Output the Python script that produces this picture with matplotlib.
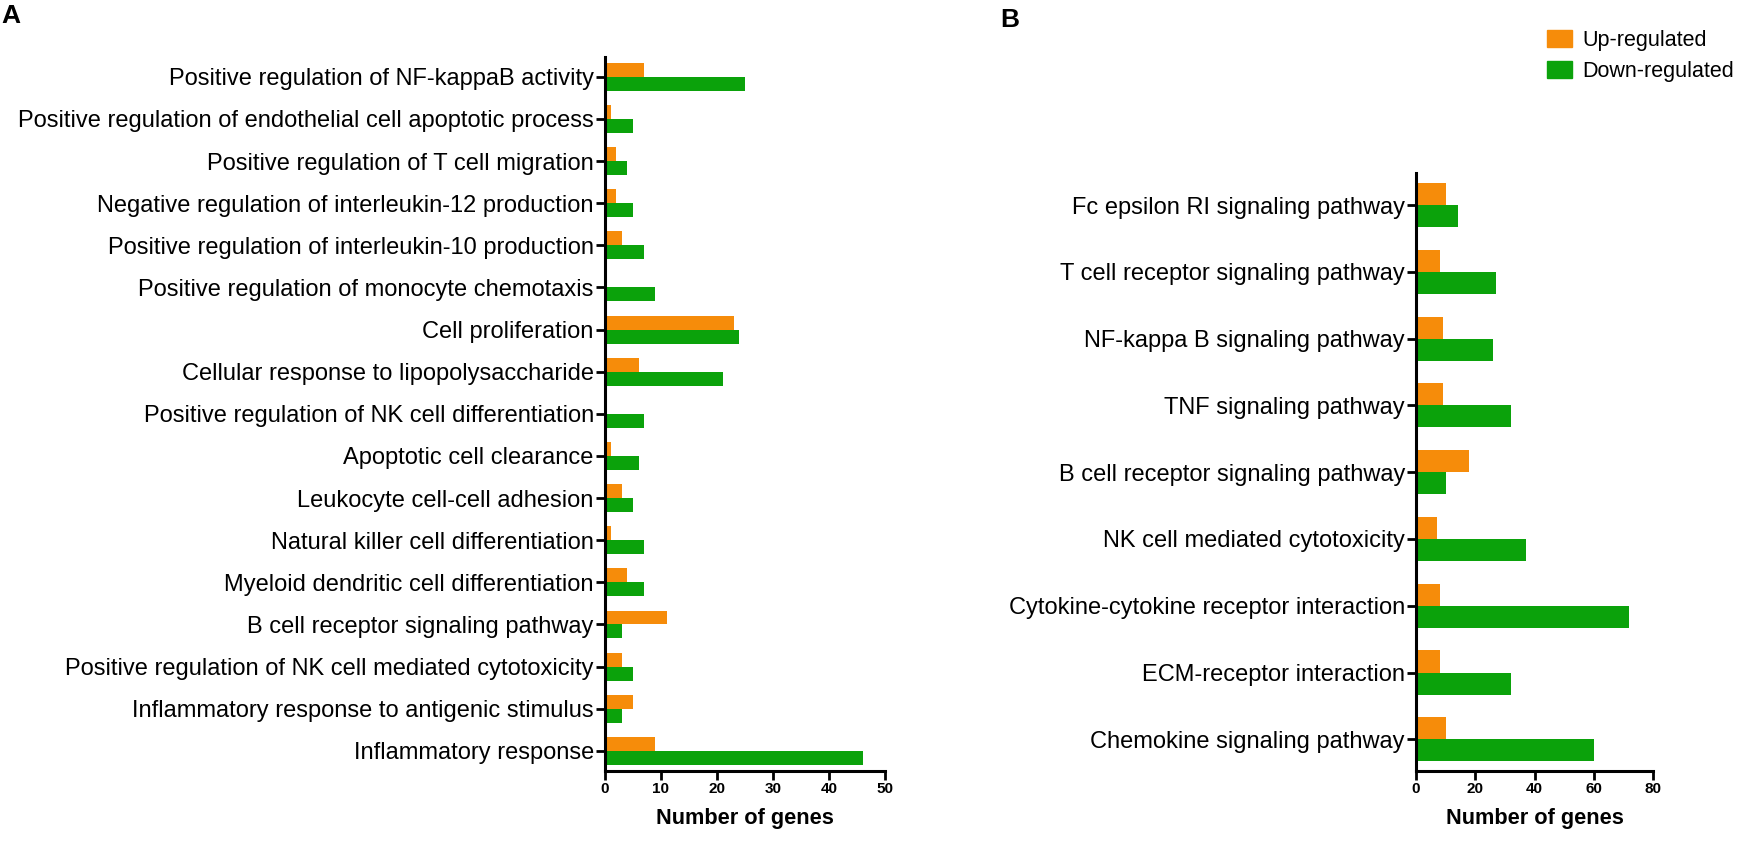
import matplotlib

matplotlib.use("Agg")

import matplotlib.pyplot as plt
import numpy as np
from matplotlib.patches import Patch

plt.rcParams["font.family"] = ["Liberation Sans", "DejaVu Sans"]

UP_COLOR = "#f68c0a"
DOWN_COLOR = "#0ba20b"

# Panel A: GO terms (top to bottom)
go_terms = [
    "Positive regulation of NF-kappaB activity",
    "Positive regulation of endothelial cell apoptotic process",
    "Positive regulation of T cell migration",
    "Negative regulation of interleukin-12 production",
    "Positive regulation of interleukin-10 production",
    "Positive regulation of monocyte chemotaxis",
    "Cell proliferation",
    "Cellular response to lipopolysaccharide",
    "Positive regulation of NK cell differentiation",
    "Apoptotic cell clearance",
    "Leukocyte cell-cell adhesion",
    "Natural killer cell differentiation",
    "Myeloid dendritic cell differentiation",
    "B cell receptor signaling pathway",
    "Positive regulation of NK cell mediated cytotoxicity",
    "Inflammatory response to antigenic stimulus",
    "Inflammatory response",
]
go_up = [7, 1, 2, 2, 3, 0, 23, 6, 0, 1, 3, 1, 4, 11, 3, 5, 9]
go_down = [25, 5, 4, 5, 7, 9, 24, 21, 7, 6, 5, 7, 7, 3, 5, 3, 46]
go_ticks = [0, 10, 20, 30, 40, 50]

# Panel B: KEGG pathways (top to bottom)
kegg_terms = [
    "Fc epsilon RI signaling pathway",
    "T cell receptor signaling pathway",
    "NF-kappa B signaling pathway",
    "TNF signaling pathway",
    "B cell receptor signaling pathway",
    "NK cell mediated cytotoxicity",
    "Cytokine-cytokine receptor interaction",
    "ECM-receptor interaction",
    "Chemokine signaling pathway",
]
kegg_up = [10, 8, 9, 9, 18, 7, 8, 8, 10]
kegg_down = [14, 27, 26, 32, 10, 37, 72, 32, 60]
kegg_ticks = [0, 20, 40, 60, 80]

BAR_H = 0.33


def draw_panel(ax, terms, up, down, ticks):
    y = np.arange(len(terms))
    ax.barh(y - BAR_H / 2, up, height=BAR_H, color=UP_COLOR, linewidth=0)
    ax.barh(y + BAR_H / 2, down, height=BAR_H, color=DOWN_COLOR, linewidth=0)
    ax.set_yticks(y)
    ax.set_yticklabels(terms, fontsize=17)
    ax.set_ylim(len(terms) - 1 + 0.47, -0.48)
    ax.set_xlim(ticks[0], ticks[-1])
    ax.set_xticks(ticks)
    ax.set_xticklabels([str(t) for t in ticks], fontsize=11, fontweight="bold")
    ax.set_xlabel("Number of genes", fontsize=15.7, fontweight="bold", labelpad=9)
    for side in ("top", "right"):
        ax.spines[side].set_visible(False)
    for side in ("left", "bottom"):
        ax.spines[side].set_linewidth(2.2)
    ax.tick_params(axis="both", width=2.0, length=6.5, pad=1.5)


fig = plt.figure(figsize=(17.48, 8.43), dpi=100)

ax_a = fig.add_axes([0.3461, 0.0858, 0.1602, 0.847])
draw_panel(ax_a, go_terms, go_up, go_down, go_ticks)

ax_b = fig.add_axes([0.8101, 0.0858, 0.1356, 0.709])
draw_panel(ax_b, kegg_terms, kegg_up, kegg_down, kegg_ticks)

fig.text(0.001, 0.995, "A", fontsize=19, fontweight="bold", va="top", ha="left")
fig.text(0.572, 0.99, "B", fontsize=19, fontweight="bold", va="top", ha="left")

handles = [Patch(color=UP_COLOR, label="Up-regulated"),
           Patch(color=DOWN_COLOR, label="Down-regulated")]
fig.legend(handles=handles, loc="upper left", bbox_to_anchor=(0.885, 0.965),
           frameon=False, fontsize=15.5, handlelength=1.15, handleheight=0.9,
           handletextpad=0.5, labelspacing=0.45, borderaxespad=0, borderpad=0)

fig.savefig("out.png", dpi=100)
